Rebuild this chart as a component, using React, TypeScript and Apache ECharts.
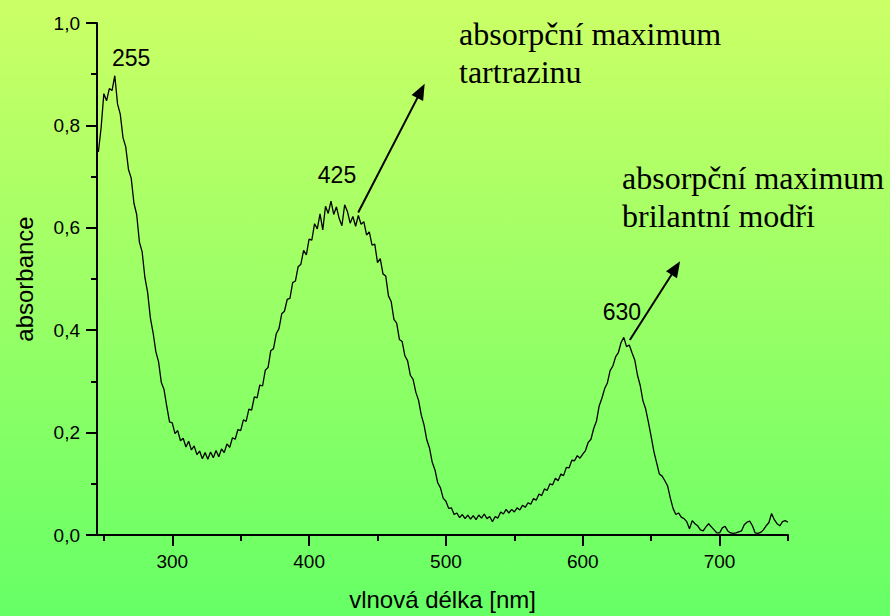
import { useEffect, useRef } from "react";
import * as echarts from "echarts";

// Absorption spectrum of a tartrazine + brilliant blue mixture, sampled every 2 nm
const WAVELENGTH_START = 246;
const WAVELENGTH_STEP = 2;

const absorbance = [
  0.748, 0.795, 0.862, 0.848, 0.872, 0.868, 0.897, 0.842, 0.822, 0.776,
  0.758, 0.714, 0.697, 0.648, 0.626, 0.572, 0.553, 0.503, 0.474, 0.424,
  0.395, 0.358, 0.338, 0.298, 0.284, 0.251, 0.221, 0.219, 0.198, 0.204,
  0.184, 0.189, 0.172, 0.183, 0.166, 0.174, 0.157, 0.164, 0.149, 0.161,
  0.148, 0.162, 0.151, 0.165, 0.153, 0.168, 0.161, 0.178, 0.171, 0.19,
  0.187, 0.206, 0.204, 0.225, 0.222, 0.246, 0.244, 0.27, 0.268, 0.293,
  0.291, 0.322, 0.327, 0.36, 0.364, 0.393, 0.403, 0.432, 0.437, 0.46,
  0.462, 0.493, 0.496, 0.524, 0.529, 0.556, 0.547, 0.578, 0.576, 0.608,
  0.598, 0.627, 0.596, 0.642, 0.628, 0.652, 0.626, 0.641, 0.618, 0.604,
  0.645, 0.632, 0.609, 0.622, 0.603, 0.624, 0.607, 0.612, 0.586, 0.592,
  0.566, 0.568, 0.532, 0.54, 0.51, 0.506, 0.467, 0.456, 0.421, 0.414,
  0.382, 0.378, 0.35, 0.34, 0.312, 0.304, 0.279, 0.263, 0.234, 0.215,
  0.186, 0.17, 0.142, 0.127, 0.102, 0.092, 0.072, 0.066, 0.052, 0.053,
  0.04, 0.043, 0.034, 0.04, 0.032, 0.039, 0.031, 0.038, 0.03, 0.039,
  0.033, 0.041, 0.032, 0.036, 0.026, 0.036, 0.033, 0.045, 0.041, 0.05,
  0.043, 0.05, 0.045, 0.053, 0.049, 0.058, 0.054, 0.063, 0.06, 0.071,
  0.068, 0.08, 0.077, 0.09, 0.087, 0.1, 0.098, 0.111, 0.106, 0.119,
  0.116, 0.132, 0.131, 0.146, 0.145, 0.155, 0.15, 0.158, 0.165, 0.181,
  0.187, 0.208, 0.222, 0.252, 0.267, 0.286, 0.297, 0.321, 0.33, 0.348,
  0.356, 0.376, 0.386, 0.368, 0.371, 0.356, 0.342, 0.312, 0.292, 0.262,
  0.246, 0.22, 0.192, 0.163, 0.141, 0.119, 0.115, 0.106, 0.096, 0.072,
  0.052, 0.04, 0.043, 0.035, 0.032, 0.026, 0.012, 0.028, 0.022, 0.018,
  0.01, 0.008, 0.016, 0.022, 0.016, 0.01, 0.004, 0.004, 0.014, 0.017,
  0.008, 0.004, 0.003, 0.004, 0.006, 0.008, 0.02, 0.025, 0.027, 0.018,
  0.004, 0.003, 0.005, 0.01, 0.018, 0.024, 0.042, 0.03, 0.022, 0.018,
  0.026, 0.028, 0.025,
];

const xMajorTicks = [300, 400, 500, 600, 700];
const xMinorTicks = [250, 350, 450, 550, 650, 750];

const peakNames = ["255", "425", "630"];
const noteTartrazine = "absorpční maximum\ntartrazinu";
const noteBrilliantBlue = "absorpční maximum\nbrilantní modři";

const SANS = '"Liberation Sans", Arial, sans-serif';
const SERIF = '"Liberation Serif", "Times New Roman", serif';

export default function App() {
  const ref = useRef<HTMLDivElement>(null);

  useEffect(() => {
    if (!ref.current) return;
    const chart = echarts.init(ref.current, undefined, { renderer: "svg" });

    const points = absorbance.map((v, i) => [WAVELENGTH_START + i * WAVELENGTH_STEP, v]);

    // label anchors (wavelength, absorbance) for the peak numbers
    const peakAnchors = [
      [269.9, 0.9325],
      [420.4, 0.704],
      [628.6, 0.435],
    ];

    const axisLineStyle = { color: "#000", width: 2 };

    const option: any = {
      animation: false,
      backgroundColor: "transparent",
      grid: { left: 97, right: 102, top: 23, bottom: 79, containLabel: false },
      xAxis: [
        {
          type: "value",
          min: 245,
          max: 750,
          position: "bottom",
          axisLine: { show: true, lineStyle: axisLineStyle },
          axisTick: { show: true, customValues: xMajorTicks, length: 11, lineStyle: axisLineStyle },
          axisLabel: {
            customValues: xMajorTicks,
            margin: 17,
            color: "#000",
            fontSize: 19,
            fontFamily: SANS,
          },
          splitLine: { show: false },
          name: "vlnová délka [nm]",
          nameLocation: "middle",
          nameGap: 52,
          nameTextStyle: { color: "#000", fontSize: 24, fontFamily: SANS },
        },
        {
          type: "value",
          min: 245,
          max: 750,
          position: "bottom",
          axisLine: { show: false },
          axisTick: { show: true, customValues: xMinorTicks, length: 6, lineStyle: axisLineStyle },
          axisLabel: { show: false },
          splitLine: { show: false },
        },
      ],
      yAxis: {
        type: "value",
        min: 0,
        max: 1,
        interval: 0.2,
        axisLine: { show: true, lineStyle: axisLineStyle },
        axisTick: { show: true, length: 11, lineStyle: axisLineStyle },
        minorTick: { show: true, splitNumber: 2, length: 6, lineStyle: axisLineStyle },
        axisLabel: {
          margin: 17,
          color: "#000",
          fontSize: 19,
          fontFamily: SANS,
          formatter: (v: number) => v.toFixed(1).replace(".", ","),
        },
        splitLine: { show: false },
        minorSplitLine: { show: false },
        name: "absorbance",
        nameLocation: "middle",
        nameGap: 61,
        nameTextStyle: { color: "#000", fontSize: 24, fontFamily: SANS },
      },
      series: [
        {
          type: "line",
          xAxisIndex: 0,
          data: points,
          showSymbol: false,
          silent: true,
          lineStyle: { color: "#000", width: 1.3 },
          markPoint: {
            silent: true,
            symbol: "circle",
            symbolSize: 1,
            itemStyle: { color: "rgba(0,0,0,0)" },
            label: {
              show: true,
              position: "inside",
              formatter: "{b}",
              color: "#000",
              fontSize: 23,
              fontFamily: SANS,
            },
            data: peakNames.map((name, i) => ({ name, coord: peakAnchors[i] })),
          },
          markLine: {
            silent: true,
            symbol: ["none", "triangle"],
            symbolSize: [13, 16],
            label: { show: false },
            lineStyle: { color: "#000", width: 2, type: "solid" },
            data: [
              [{ coord: [435.9, 0.63] }, { coord: [481.8, 0.8675] }],
              [{ coord: [634.4, 0.381] }, { coord: [668.0, 0.5216] }],
            ],
          },
        },
      ],
      graphic: [
        {
          type: "text",
          x: 459,
          y: 15,
          style: {
            text: noteTartrazine,
            font: `32px ${SERIF}`,
            lineHeight: 38,
            fill: "#000",
            verticalAlign: "top",
          },
        },
        {
          type: "text",
          x: 622,
          y: 159,
          style: {
            text: noteBrilliantBlue,
            font: `32px ${SERIF}`,
            lineHeight: 38,
            fill: "#000",
            verticalAlign: "top",
          },
        },
      ],
    };

    chart.setOption(option);
    return () => chart.dispose();
  }, []);

  return (
    <div
      style={{
        position: "fixed",
        left: 0,
        top: 0,
        width: 890,
        height: 616,
        background: "linear-gradient(to bottom, #ccff66, #66ff66)",
      }}
    >
      <div ref={ref} style={{ width: 890, height: 616 }} />
    </div>
  );
}
